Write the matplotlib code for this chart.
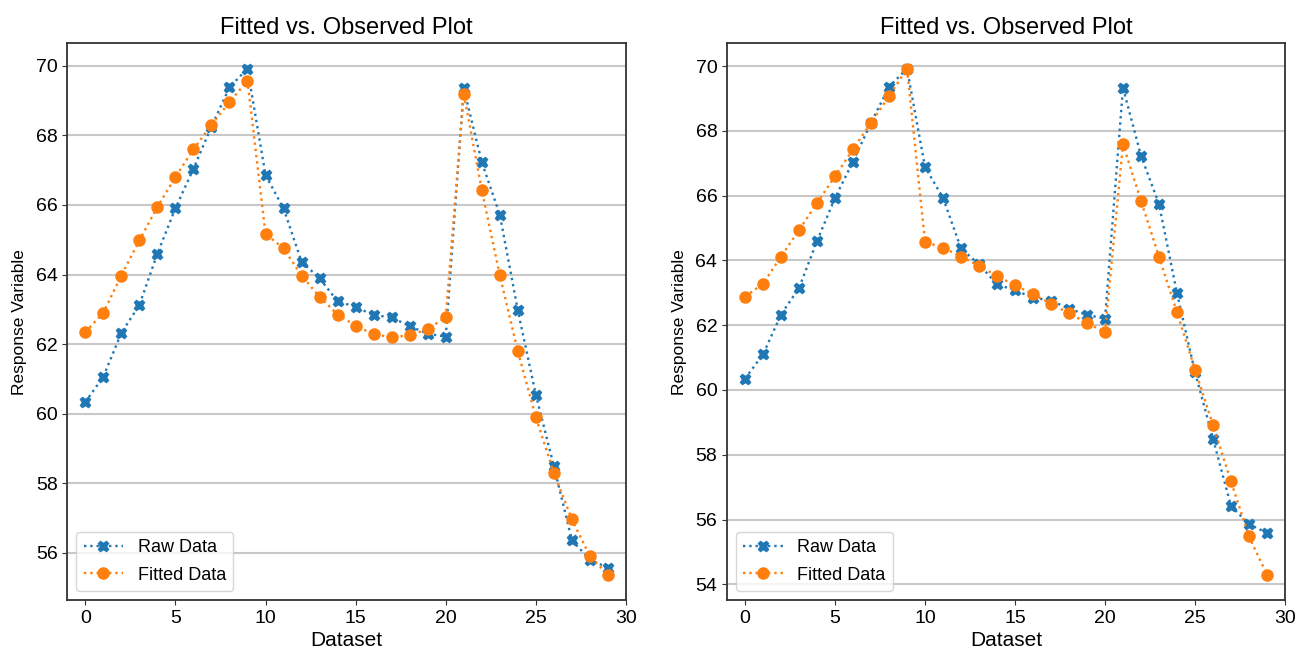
import numpy as np
import matplotlib.pyplot as plt

plt.rcParams["font.family"] = ["Liberation Sans", "DejaVu Sans"]

x = np.arange(30)

# left panel
raw_left = [60.33, 61.06, 62.32, 63.12, 64.60, 65.90, 67.04, 68.25, 69.38, 69.92,
            66.86, 65.90, 64.37, 63.89, 63.23, 63.07, 62.83, 62.77, 62.51, 62.30,
            62.21, 69.35, 67.23, 65.72, 62.97, 60.54, 58.49, 56.36, 55.80, 55.57]
fit_left = [62.34, 62.90, 63.97, 64.98, 65.94, 66.80, 67.60, 68.30, 68.96, 69.57,
            65.17, 64.75, 63.97, 63.36, 62.85, 62.53, 62.28, 62.20, 62.25, 62.43,
            62.77, 69.20, 66.43, 63.98, 61.79, 59.90, 58.29, 56.96, 55.90, 55.37]

# right panel
raw_right = [60.35, 61.10, 62.33, 63.15, 64.60, 65.93, 67.05, 68.25, 69.36, 69.92,
             66.88, 65.93, 64.37, 63.88, 63.26, 63.08, 62.85, 62.76, 62.51, 62.32,
             62.20, 69.33, 67.23, 65.74, 62.99, 60.55, 58.50, 56.42, 55.86, 55.59]
fit_right = [62.88, 63.28, 64.12, 64.94, 65.77, 66.60, 67.43, 68.25, 69.07, 69.92,
             64.57, 64.39, 64.12, 63.83, 63.52, 63.23, 62.96, 62.66, 62.37, 62.07,
             61.78, 67.59, 65.84, 64.11, 62.40, 60.63, 58.92, 57.18, 55.48, 54.30]

fig = plt.figure(figsize=(13.06, 6.54), dpi=100)
ax1 = fig.add_axes([0.0515, 0.0826, 0.4278, 0.8512])
ax2 = fig.add_axes([0.5567, 0.0826, 0.4272, 0.8512])

for ax, raw, fit in [(ax1, raw_left, fit_left), (ax2, raw_right, fit_right)]:
    ax.grid(axis="y", color="#c8c8c8", linewidth=1.5)
    ax.set_axisbelow(True)
    ax.plot(x, raw, ":", marker="X", color="#1f77b4", markersize=7.5,
            linewidth=1.7, label="Raw Data")
    ax.plot(x, fit, ":", marker="o", color="#ff7f0e", markersize=8,
            linewidth=1.7, label="Fitted Data")
    ax.set_xlim(-1, 30)
    ax.set_xticks([0, 5, 10, 15, 20, 25, 30])
    ax.set_title("Fitted vs. Observed Plot", fontsize=17, pad=7)
    ax.set_xlabel("Dataset", fontsize=15, labelpad=3)
    ax.set_ylabel("Response Variable", fontsize=12.5, labelpad=6)
    ax.tick_params(labelsize=14, color="#333333")
    for s in ax.spines.values():
        s.set_color("#333333")
        s.set_linewidth(1.3)
    ax.legend(loc="lower left", fontsize=13, handlelength=2.2, labelspacing=0.6)

fig.savefig("out.png", dpi=100)
